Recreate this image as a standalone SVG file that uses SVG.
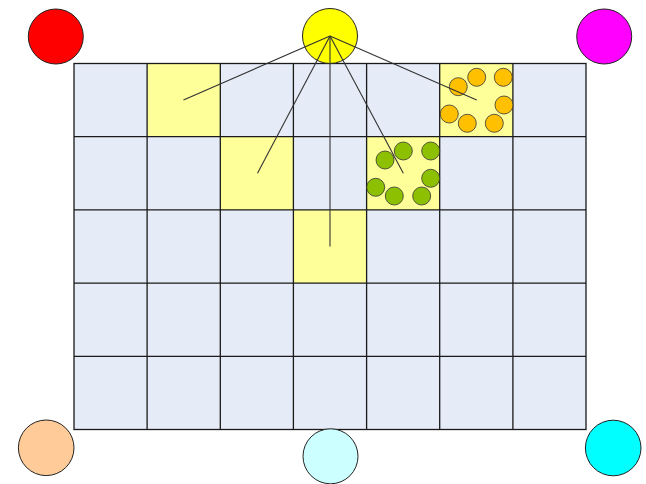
<svg xmlns="http://www.w3.org/2000/svg" width="646" height="484" viewBox="0 0 646 484">
<style>
.cell{fill:#E6ECF7;stroke:#1a1a1a;stroke-width:1.3}
.hl{fill:#FFFF99}
.big{stroke:#222;stroke-width:1}
.or{fill:#FFC000;stroke:#333;stroke-width:0.8}
.gr{fill:#8CC000;stroke:#333;stroke-width:0.8}
.ln{stroke:#333;stroke-width:1.1;fill:none}
</style>
<rect width="646" height="484" fill="#fff"/>
<g id="grid">
<rect x="74" y="63.5" width="512" height="366" fill="#E6ECF7"/>
<rect class="hl" x="147.1" y="63.5" width="73.2" height="73.2"/>
<rect class="hl" x="220.3" y="136.7" width="73.1" height="73.2"/>
<rect class="hl" x="293.4" y="209.9" width="73.2" height="73.2"/>
<rect class="hl" x="366.6" y="136.7" width="73.1" height="73.2"/>
<rect class="hl" x="439.7" y="63.5" width="73.2" height="73.2"/>
<g stroke="#1a1a1a" stroke-width="1.3" fill="none">
<rect x="74" y="63.5" width="512" height="366"/>
<path d="M147.1 63.5V429.5M220.3 63.5V429.5M293.4 63.5V429.5M366.6 63.5V429.5M439.7 63.5V429.5M512.9 63.5V429.5M74 136.7H586M74 209.9H586M74 283.1H586M74 356.3H586"/>
</g>
</g>
<g id="orange-dots">
<circle class="or" cx="458.3" cy="86.7" r="9"/>
<circle class="or" cx="476.7" cy="77.3" r="9"/>
<circle class="or" cx="503.3" cy="77.3" r="9"/>
<circle class="or" cx="504" cy="105" r="9"/>
<circle class="or" cx="449.3" cy="114" r="9"/>
<circle class="or" cx="467.3" cy="123.3" r="9"/>
<circle class="or" cx="494.3" cy="123.3" r="9"/>
</g>
<g id="green-dots">
<circle class="gr" cx="385" cy="160" r="9"/>
<circle class="gr" cx="403.3" cy="151" r="9"/>
<circle class="gr" cx="430.7" cy="151" r="9"/>
<circle class="gr" cx="430.7" cy="178.3" r="9"/>
<circle class="gr" cx="375.7" cy="187.3" r="9"/>
<circle class="gr" cx="394.3" cy="196" r="9"/>
<circle class="gr" cx="421.7" cy="196" r="9"/>
</g>
<g id="red"><circle class="big" cx="55.8" cy="36.5" r="27.5" fill="#FF0000"/></g>
<g id="yellow"><circle class="big" cx="330" cy="36" r="27.5" fill="#FFFF00"/></g>
<g id="magenta"><circle class="big" cx="604.2" cy="36.5" r="27.5" fill="#FF00FF"/></g>
<g id="peach"><circle class="big" cx="46.2" cy="447.8" r="27.8" fill="#FFCC99"/></g>
<g id="lightcyan"><circle class="big" cx="330.5" cy="456.3" r="27.5" fill="#CCFFFF"/></g>
<g id="cyan"><circle class="big" cx="613.2" cy="448" r="27.8" fill="#00FFFF"/></g>
<g id="connectors" class="ln">
<line x1="330" y1="36" x2="183.5" y2="100"/>
<line x1="330" y1="36" x2="257.5" y2="173.3"/>
<line x1="330" y1="36" x2="330" y2="246.5"/>
<line x1="330" y1="36" x2="403.3" y2="173.3"/>
<line x1="330" y1="36" x2="476.7" y2="100"/>
</g>
</svg>
